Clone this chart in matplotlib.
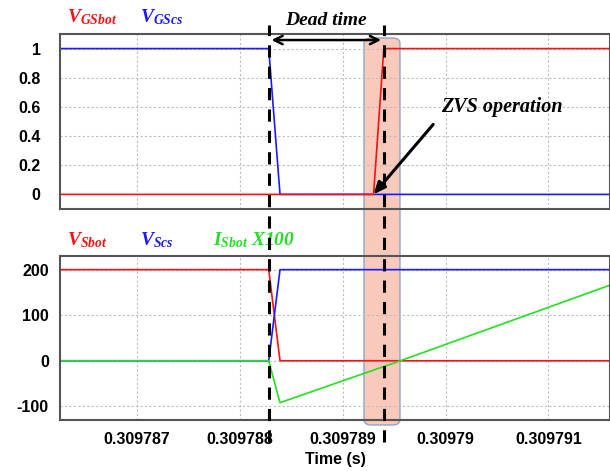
import matplotlib
matplotlib.use("Agg")
import matplotlib.pyplot as plt
from matplotlib.lines import Line2D
from matplotlib.patches import FancyBboxPatch, FancyArrowPatch
from matplotlib.ticker import FuncFormatter
import matplotlib.transforms as mtransforms

plt.rcParams['mathtext.fontset'] = 'custom'
plt.rcParams['mathtext.it'] = 'Liberation Serif:italic:bold'
plt.rcParams['mathtext.rm'] = 'Liberation Serif:italic:bold'

# time window (s)
t_min, t_max = 0.30978625, 0.3097916
dead_start, dead_end = 0.30978828, 0.3097894

# gate signals
t_gs_cs = [t_min, 0.30978828, 0.30978839, t_max]
v_gs_cs = [1, 1, 0, 0]
t_gs_bot = [t_min, 0.30978930, 0.3097894, t_max]
v_gs_bot = [0, 0, 1, 1]

# switch voltages and current
t_vs = [t_min, 0.30978828, 0.30978839, t_max]
v_sbot = [200, 200, 0, 0]
v_scs = [0, 0, 200, 200]
t_is = [t_min, 0.30978828, 0.30978839, 0.30978956, t_max]
i_sbot_x100 = [0, 0, -92, 0, 166]

x_ticks = [0.309787, 0.309788, 0.309789, 0.30979, 0.309791]
top_ticks = [0, 0.2, 0.4, 0.6, 0.8, 1]
bot_ticks = [-100, 0, 100, 200]

RED = '#ff1010'
BLUE = '#1a1aff'
GREEN = '#22e022'

fig = plt.figure(figsize=(6.1, 4.71), dpi=100)
ax1 = fig.add_axes([0.0984, 0.5563, 0.9016, 0.3715])
ax2 = fig.add_axes([0.0984, 0.1083, 0.9016, 0.3482])

tick_font = dict(family='Liberation Sans', weight='bold', size=11.5)

for ax in (ax1, ax2):
    ax.set_facecolor('none')
    ax.set_xlim(t_min, t_max)
    ax.set_xticks(x_ticks)
    ax.grid(True, color='#bdbdbd', linestyle=(0, (2, 2)), linewidth=0.8)
    for s in ax.spines.values():
        s.set_color('#555555')
        s.set_linewidth(1.5)
    ax.tick_params(length=0)

ax1.plot(t_gs_cs, v_gs_cs, color=BLUE, lw=1.2)
ax1.plot(t_gs_bot, v_gs_bot, color=RED, lw=1.2)
ax1.set_ylim(-0.1, 1.1)
ax1.set_yticks(top_ticks)
ax1.yaxis.set_major_formatter(FuncFormatter(lambda v, p: f'{v:g}'))
ax1.set_xticklabels([])
ax1.tick_params(axis='y', pad=14)

ax2.plot(t_vs, v_sbot, color=RED, lw=1.2)
ax2.plot(t_vs, v_scs, color=BLUE, lw=1.2)
ax2.plot(t_is, i_sbot_x100, color=GREEN, lw=1.2)
ax2.set_ylim(-130, 230)
ax2.set_yticks(bot_ticks)
ax2.yaxis.set_major_formatter(FuncFormatter(lambda v, p: f'{v:g}'))
ax2.xaxis.set_major_formatter(FuncFormatter(lambda v, p: f'{v:g}'))
ax2.tick_params(axis='y', pad=8)
ax2.tick_params(axis='x', pad=9)
ax2.set_xlabel('Time (s)', fontfamily='Liberation Sans', fontweight='bold',
               fontsize=11.5, labelpad=3)

for ax in (ax1, ax2):
    for lab in ax.get_yticklabels() + ax.get_xticklabels():
        lab.set(**tick_font)

# shaded ZVS region
box = FancyBboxPatch((0.5967, 0.0977), 0.059, 0.8216,
                     boxstyle='round,pad=0,rounding_size=0.012',
                     transform=fig.transFigure, facecolor='#f9c9bb',
                     edgecolor='#8aa6c6', linewidth=1.0, zorder=-1)
fig.patches.append(box)

# dead-time markers
blend = mtransforms.blended_transform_factory(ax2.transData, fig.transFigure)
for t in (dead_start, dead_end):
    fig.add_artist(Line2D([t, t], [0.062, 0.947], transform=blend,
                          color='black', lw=2.2, linestyle=(0, (4, 3)),
                          zorder=10))
fig.add_artist(FancyArrowPatch(
    (dead_start, 0.915), (dead_end, 0.915), transform=blend,
    arrowstyle='<->,head_length=6,head_width=3', color='black', lw=1.8,
    zorder=11))
fig.text((dead_start + dead_end) / 2, 0.957, 'Dead time', transform=blend,
         ha='center', va='center', family='Liberation Serif', style='italic',
         weight='bold', size=14)

# ZVS annotation
ax1.annotate('', xy=(0.3097893, 0), xytext=(0.30978988, 0.48),
             arrowprops=dict(arrowstyle='-|>,head_length=0.7,head_width=0.3',
                             color='black', lw=2.2, shrinkA=0, shrinkB=0),
             annotation_clip=False, zorder=12)
ax1.text(0.30979055, 0.6, 'ZVS operation', ha='center', va='center',
         family='Liberation Serif', style='italic', weight='bold', size=14.5)

# signal names
lab_kw = dict(family='Liberation Serif', style='italic', weight='bold',
              size=14, va='baseline')
fig.text(67 / 610, 1 - 22 / 471, r'$V_{GSbot}$', color=RED, **lab_kw)
fig.text(140 / 610, 1 - 22 / 471, r'$V_{GScs}$', color=BLUE, **lab_kw)
fig.text(67 / 610, 1 - 245 / 471, r'$V_{Sbot}$', color=RED, **lab_kw)
fig.text(140 / 610, 1 - 245 / 471, r'$V_{Scs}$', color=BLUE, **lab_kw)
fig.text(213 / 610, 1 - 245 / 471, r'$I_{Sbot}$ X100', color=GREEN, **lab_kw)

fig.savefig('out.png', dpi=100)
